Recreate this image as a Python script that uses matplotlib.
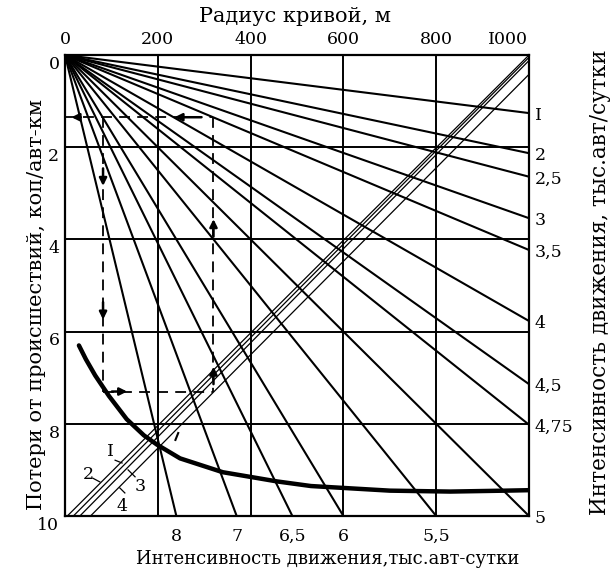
import matplotlib.pyplot as plt
import numpy as np

# радиус кривой, м (верхняя шкала) и потери, коп/авт-км (левая шкала)
radius_ticks = [0, 200, 400, 600, 800, 1000]
loss_ticks = [0, 2, 4, 6, 8, 10]

# лучи, выходящие на правую границу (R = 1000 м): потери на конце и интенсивность
right_loss = [1.26, 2.13, 2.64, 3.54, 4.23, 5.77, 7.14, 8.02, 10.0]
right_labels = ['I', '2', '2,5', '3', '3,5', '4', '4,5', '4,75', '5']

# лучи, выходящие на нижнюю границу (потери = 10): радиус на конце и интенсивность
bottom_radius = [240, 370, 490, 600, 800]
bottom_labels = ['8', '7', '6,5', '6', '5,5']

# переходные прямые I-4: (радиус, потери) в начале и в конце
diag_start_r = [5, 18, 32, 55]
diag_end_loss = [0.0, 0.05, 0.12, 0.42]
diag_labels = ['I', '2', '3', '4']

# кривая потерь
curve_r = [30, 45, 65, 95, 133, 170, 198, 248, 340, 457, 530, 700, 830, 950, 1000]
curve_loss = [6.3, 6.6, 6.95, 7.4, 7.9, 8.25, 8.45, 8.75, 9.05, 9.25, 9.35, 9.45, 9.47, 9.45, 9.44]

# пример расчёта (ключ)
key_r = [82, 320]
key_loss = [1.35, 7.3]

plt.rcParams['font.family'] = ['DejaVu Serif']
fig = plt.figure(figsize=(6.14, 5.72), dpi=100)
ax = fig.add_axes([65 / 614, 1 - 516 / 572, 464 / 614, 461 / 572])
ax.set_xlim(0, 1000)
ax.set_ylim(10, 0)
ax.set_xticks([])
ax.set_yticks([])
for s in ax.spines.values():
    s.set_linewidth(1.6)

# сетка
for r in radius_ticks[1:-1]:
    ax.plot([r, r], [0, 10], color='k', lw=1.4)
for v in loss_ticks[1:-1]:
    ax.plot([0, 1000], [v, v], color='k', lw=1.4)

# веер лучей из начала координат
for v in right_loss:
    ax.plot([0, 1000], [0, v], color='k', lw=1.5)
for r in bottom_radius:
    ax.plot([0, r], [0, 10], color='k', lw=1.5)

# переходные прямые
for r0, v1 in zip(diag_start_r, diag_end_loss):
    ax.plot([r0, 1000], [10, v1], color='k', lw=0.9)

# кривая
ax.plot(curve_r, curve_loss, color='k', lw=3.2, solid_capstyle='round')

# ключ
dash = (0, (6, 4))
x0, x1 = key_r
y0, y1 = key_loss
ax.plot([0, x1], [y0, y0], color='k', lw=1.3, ls=dash)
ax.plot([x0, x0], [y0, y1], color='k', lw=1.3, ls=dash)
ax.plot([x0, x1], [y1, y1], color='k', lw=1.3, ls=dash)
ax.plot([x1, x1], [y0, y1], color='k', lw=1.3, ls=dash)
arrow = dict(arrowstyle='-|>', lw=1.8, color='k', mutation_scale=11)
for head, tail in [((x0, 2.9), (x0, 2.4)), ((x0, 5.8), (x0, 5.3)),
                   ((140, y1), (95, y1)),
                   ((x1, 3.5), (x1, 4.0)), ((x1, 6.7), (x1, 7.2)),
                   ((230, y0), (300, y0)), ((8, y0), (40, y0))]:
    ax.annotate('', xy=head, xytext=tail, arrowprops=arrow)
ax.plot([238, 244], [8.35, 8.2], color='k', lw=1.5)

# подписи шкал
for r in radius_ticks:
    xr = 955 if r == 1000 else r
    ax.text(xr, -0.15, str(r).replace('1', 'I'), ha='center', va='bottom', fontsize=12.5)
for v in loss_ticks:
    ax.text(-12, v + 0.2, str(v), ha='right', va='center', fontsize=12.5)
for v, lab in zip(right_loss, right_labels):
    ax.text(1012, v + 0.05, lab, ha='left', va='center', fontsize=12.5)
for r, lab in zip(bottom_radius, bottom_labels):
    ax.text(r, 10.25, lab, ha='center', va='top', fontsize=12.5)

label_pos = [(97, 8.61), (50, 9.11), (162, 9.37), (123, 9.8)]
tick_pos = [((108, 123), (8.79, 8.85)), ((60, 75), (9.18, 9.26)),
            ((151, 136), (9.15, 9.0)), ((118, 129), (9.39, 9.5))]
for lab, (lx, ly), (tx, ty) in zip(diag_labels, label_pos, tick_pos):
    ax.text(lx, ly, lab, ha='center', va='center', fontsize=12.5)
    ax.plot(tx, ty, color='k', lw=0.9)

fig.text(295 / 614, 1 - 17 / 572, 'Радиус кривой, м', ha='center', va='center', fontsize=15)
fig.text(328 / 614, 1 - 559 / 572, 'Интенсивность движения,тыс.авт-сутки',
         ha='center', va='center', fontsize=13)
fig.text(37 / 614, 1 - 305 / 572, 'Потери от происшествий, коп/авт-км',
         rotation=90, ha='center', va='center', fontsize=15)
fig.text(600 / 614, 1 - 282 / 572, 'Интенсивность движения, тыс.авт/сутки',
         rotation=90, ha='center', va='center', fontsize=15.5)

fig.savefig('out.png', dpi=100)
